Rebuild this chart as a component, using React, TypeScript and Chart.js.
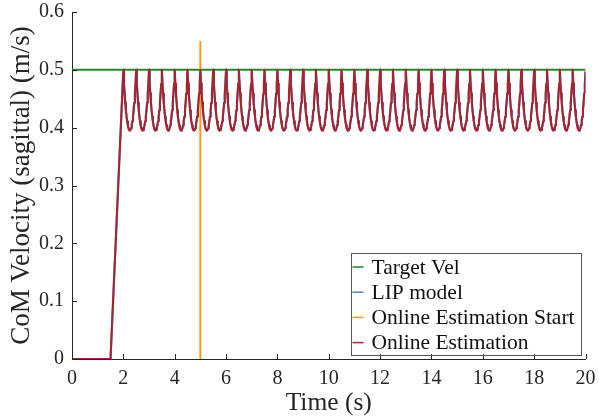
import React, { useEffect, useRef } from "react";
import { Chart, registerables } from "chart.js";
Chart.register(...registerables);

// ---- data ----
const xTicks = [0, 2, 4, 6, 8, 10, 12, 14, 16, 18, 20];
const yTicks = [0, 0.1, 0.2, 0.3, 0.4, 0.5, 0.6];
const legendLabels = ["Target Vel", "LIP model", "Online Estimation Start", "Online Estimation"];
const seriesColors = ["#23892a", "#4f88c6", "#ff9a12", "#a9222c"];

const targetVel = 0.5;
const targetRange = [0, 20];
const estimationStartTime = 5;
const estimationStartRange = [0, 0.55];

// standing still, then ramp up to the first peak
const standTimes = [0, 1.5];
const standVels = [0, 0];

// peaks of each step (s)
const stepPeakTimes = [
  2, 2.5, 3, 3.5, 4, 4.5, 5, 5.5, 6, 6.5, 7, 7.5, 8, 8.5, 9, 9.5, 10, 10.5,
  11, 11.5, 12, 12.5, 13, 13.5, 14, 14.5, 15, 15.5, 16, 16.5, 17, 17.5, 18, 18.5, 19, 19.5,
];
// shape of one step, time after the peak (s) and velocity (m/s)
const stepPhase = [
  0, 0.025, 0.05, 0.075, 0.1, 0.125, 0.15, 0.175, 0.2, 0.225, 0.25,
  0.275, 0.3, 0.325, 0.35, 0.375, 0.4, 0.425, 0.45, 0.475, 0.5,
];
const stepShape = [
  0.5, 0.476, 0.459, 0.443, 0.430, 0.419, 0.411, 0.404, 0.399, 0.396, 0.395,
  0.396, 0.399, 0.404, 0.411, 0.419, 0.430, 0.443, 0.459, 0.476, 0.5,
];
const endTime = 20;
const endVel = 0.497;

function buildVelocity() {
  const pts: { x: number; y: number }[] = [];
  standTimes.forEach((t, i) => pts.push({ x: t, y: standVels[i] }));
  stepPeakTimes.forEach((tp) => {
    for (let i = 0; i < stepPhase.length - 1; i++) {
      pts.push({ x: tp + stepPhase[i], y: stepShape[i] });
    }
  });
  pts.push({ x: endTime, y: endVel });
  return pts;
}

const FONT = "'Liberation Serif', 'Times New Roman', serif";
const AXIS_COLOR = "#262626";

const decorPlugin = {
  id: "decor",
  afterDraw(chart: any) {
    const { ctx, chartArea, scales } = chart;
    ctx.save();
    ctx.strokeStyle = AXIS_COLOR;
    ctx.lineWidth = 1;
    // inward ticks
    for (const v of xTicks) {
      const px = Math.round(scales.x.getPixelForValue(v)) + 0.5;
      ctx.beginPath();
      ctx.moveTo(px, chartArea.bottom);
      ctx.lineTo(px, chartArea.bottom - 5);
      ctx.stroke();
    }
    for (const v of yTicks) {
      const py = Math.round(scales.y.getPixelForValue(v)) + 0.5;
      ctx.beginPath();
      ctx.moveTo(chartArea.left, py);
      ctx.lineTo(chartArea.left + 5, py);
      ctx.stroke();
    }
    // legend box
    const right = chartArea.right - 5;
    const bottom = chartArea.bottom - 5;
    const w = 230;
    const h = 101.5;
    const left = right - w;
    const top = bottom - h;
    ctx.fillStyle = "#ffffff";
    ctx.fillRect(left, top, w, h);
    ctx.strokeStyle = "#555555";
    ctx.strokeRect(Math.round(left) + 0.5, Math.round(top) + 0.5, Math.round(w), Math.round(h));
    ctx.font = `21.5px ${FONT}`;
    ctx.textBaseline = "middle";
    ctx.textAlign = "left";
    legendLabels.forEach((lab, i) => {
      const cy = top + 14.5 + i * 25.2;
      ctx.strokeStyle = seriesColors[i];
      ctx.lineWidth = 1.5;
      ctx.beginPath();
      ctx.moveTo(left + 2, cy);
      ctx.lineTo(left + 13, cy);
      ctx.stroke();
      ctx.fillStyle = "#111111";
      ctx.fillText(lab, left + 21, cy + 1);
    });
    ctx.restore();
  },
};

export default function App() {
  const ref = useRef<HTMLCanvasElement | null>(null);
  useEffect(() => {
    if (!ref.current) return;
    const vel = buildVelocity();
    const chart = new Chart(ref.current, {
      type: "line",
      data: {
        datasets: [
          {
            label: legendLabels[0],
            data: targetRange.map((t) => ({ x: t, y: targetVel })),
            borderColor: seriesColors[0],
            borderWidth: 2,
            pointRadius: 0,
            order: 4,
          },
          {
            label: legendLabels[1],
            data: vel,
            borderColor: seriesColors[1],
            borderWidth: 2.2,
            borderJoinStyle: "round",
            pointRadius: 0,
            order: 3,
          },
          {
            label: legendLabels[2],
            data: estimationStartRange.map((v) => ({ x: estimationStartTime, y: v })),
            borderColor: seriesColors[2],
            borderWidth: 2,
            pointRadius: 0,
            order: 2,
          },
          {
            label: legendLabels[3],
            data: vel,
            borderColor: seriesColors[3],
            borderWidth: 2,
            borderJoinStyle: "round",
            pointRadius: 0,
            order: 1,
          },
        ],
      },
      options: {
        animation: false,
        responsive: false,
        maintainAspectRatio: false,
        layout: { padding: { top: 12, right: 13.5, left: 0, bottom: 0 } },
        plugins: { legend: { display: false }, tooltip: { enabled: false } },
        elements: { line: { tension: 0 } },
        scales: {
          x: {
            type: "linear",
            min: 0,
            max: 20,
            afterBuildTicks: (s: any) => {
              s.ticks = xTicks.map((v) => ({ value: v }));
            },
            afterFit: (s: any) => {
              s.height = 60;
              s.paddingLeft = 0;
              s.paddingRight = 0;
            },
            grid: { display: false, drawTicks: false },
            border: { display: true, color: AXIS_COLOR, width: 1 },
            ticks: {
              padding: 8,
              color: AXIS_COLOR,
              font: { family: FONT, size: 20 },
              maxRotation: 0,
              callback: (v: any) => String(v),
            },
            title: {
              display: true,
              text: "Time (s)",
              color: AXIS_COLOR,
              font: { family: FONT, size: 25.5 },
              padding: { top: 0, bottom: 0 },
            },
          },
          y: {
            type: "linear",
            min: 0,
            max: 0.6,
            afterBuildTicks: (s: any) => {
              s.ticks = yTicks.map((v) => ({ value: v }));
            },
            afterFit: (s: any) => {
              s.width = 72;
              s.paddingTop = 0;
              s.paddingBottom = 0;
            },
            grid: { display: false, drawTicks: false },
            border: { display: true, color: AXIS_COLOR, width: 1 },
            ticks: {
              padding: 8,
              color: AXIS_COLOR,
              font: { family: FONT, size: 20 },
              callback: (v: any) => (Number(v) === 0 ? "0" : Number(v).toFixed(1)),
            },
            title: {
              display: true,
              text: "CoM Velocity (sagittal) (m/s)",
              color: AXIS_COLOR,
              font: { family: FONT, size: 27 },
              padding: { top: 5.5, bottom: 5.5 },
            },
          },
        },
      },
      plugins: [decorPlugin],
    });
    return () => chart.destroy();
  }, []);
  return (
    <div style={{ position: "fixed", left: 0, top: 0, width: 599, height: 419, background: "#fff" }}>
      <canvas ref={ref} width={599} height={419} style={{ display: "block" }} />
    </div>
  );
}
